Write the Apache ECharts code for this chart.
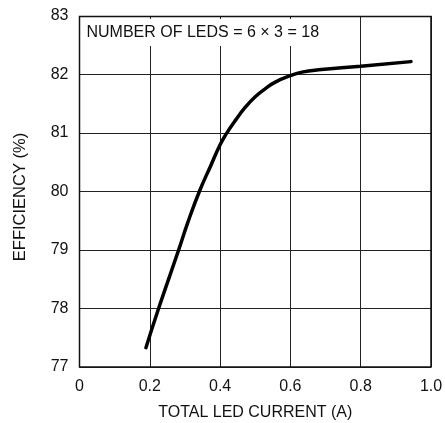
<!DOCTYPE html>
<html><head><meta charset="utf-8">
<script src="https://cdn.jsdelivr.net/npm/echarts@6/dist/echarts.min.js"></script>
<style>html,body{margin:0;padding:0;background:#fff}#c{width:445px;height:423px}</style>
</head><body><div id="c"></div>
<script>
const currentA = [0.189, 0.225, 0.282, 0.307, 0.341, 0.374, 0.4, 0.417, 0.444, 0.473, 0.5, 0.529, 0.557, 0.6, 0.633, 0.68, 0.8, 0.943];
const efficiency = [77.33, 78.0, 79.0, 79.45, 80.0, 80.45, 80.8, 80.98, 81.22, 81.45, 81.62, 81.76, 81.87, 81.98, 82.04, 82.08, 82.14, 82.22];
const xTicks = [0, 0.2, 0.4, 0.6, 0.8, 1.0];
const yTicks = [77, 78, 79, 80, 81, 82, 83];
const noteText = 'NUMBER OF LEDS = 6 \u00d7 3 = 18';
const xTitle = 'TOTAL LED CURRENT (A)';
const yTitle = 'EFFICIENCY (%)';
const FONT = '"Liberation Sans", Arial, sans-serif';

const chart = echarts.init(document.getElementById('c'), null, {renderer: 'canvas'});
chart.setOption({
  animation: false,
  backgroundColor: '#fff',
  grid: {left: 79.5, right: 14, top: 16, bottom: 56, containLabel: false, outerBoundsMode: 'none', show: false},
  xAxis: {
    type: 'value', min: 0, max: 1.0, interval: 0.2,
    name: xTitle, nameLocation: 'middle', nameGap: 38,
    nameTextStyle: {fontFamily: FONT, fontSize: 16, color: '#111'},
    axisLine: {show: false},
    axisTick: {show: false},
    axisLabel: {fontFamily: FONT, fontSize: 16, color: '#111', margin: 12,
      formatter: v => (v === 0 ? '0' : (v === 1 ? '1.0' : String(+v.toFixed(1))))},
    splitLine: {show: true, lineStyle: {color: '#222', width: 1}}
  },
  yAxis: {
    type: 'value', min: 77, max: 83, interval: 1,
    axisLine: {show: false},
    axisTick: {show: false},
    axisLabel: {fontFamily: FONT, fontSize: 16, color: '#111', margin: 11},
    splitLine: {show: true, lineStyle: {color: '#222', width: 1}}
  },
  graphic: [
    {type: 'rect', shape: {x: 81, y: 19, width: 237, height: 27}, style: {fill: '#fff'}, z: 10},
    {type: 'text', x: 86.5, y: 33, style: {text: noteText, font: '16px ' + FONT, fill: '#111', verticalAlign: 'middle', align: 'left'}, z: 11},
    {type: 'text', x: 20, y: 197, rotation: Math.PI / 2, style: {text: yTitle, font: '16.5px ' + FONT, fill: '#111', verticalAlign: 'middle', align: 'center'}, z: 11},
    {type: 'rect', shape: {x: 79.5, y: 16.5, width: 351.5, height: 350.5}, style: {fill: 'none', stroke: '#111', lineWidth: 1.5}, z: 12}
  ],
  series: [{
    type: 'line', smooth: 0.5, showSymbol: false,
    data: currentA.map((x, i) => [x, efficiency[i]]),
    lineStyle: {color: '#000', width: 3.5, cap: 'round'},
    z: 5
  }]
});
</script></body></html>
